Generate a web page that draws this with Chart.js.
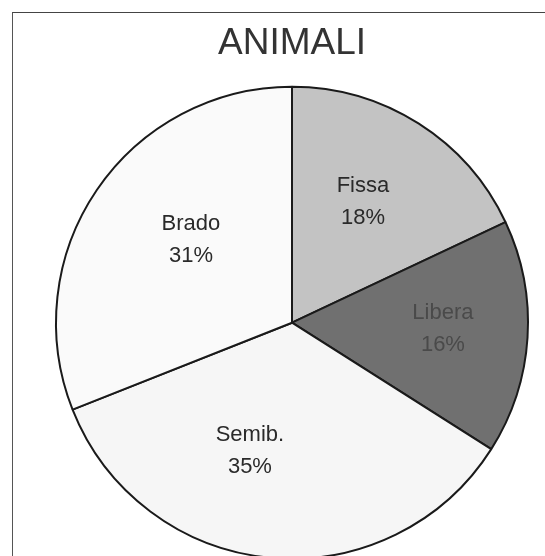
<!DOCTYPE html>
<html>
<head>
<meta charset="utf-8">
<script src="https://cdn.jsdelivr.net/npm/chart.js@4"></script>
<style>
  html, body { margin: 0; padding: 0; background: #fff; overflow: hidden; width: 545px; height: 556px; }
  #frame { position: absolute; left: 12px; top: 12px; width: 560px; height: 600px; border-left: 1.5px solid #555; border-top: 1.5px solid #444; }
  #wrap { position: absolute; left: 0; top: 0; width: 545px; height: 600px; }
</style>
</head>
<body>
<div id="frame"></div>
<div id="wrap"><canvas id="myChart"></canvas></div>
<script>
const labels = ["Fissa", "Libera", "Semib.", "Brado"];
const values = [18, 16, 35, 31];
const sliceColors = ["#c3c3c3", "#707070", "#f6f6f6", "#fafafa"];
const labelColors = ["#2a2a2a", "#4a4a4a", "#2a2a2a", "#2a2a2a"];
// label placement: angle shift from slice middle (deg) and fraction of radius
const labelShift = [-2, -1.3, 12.8, 5.2];
const labelRadius = [0.594, 0.64, 0.571, 0.554];

const ctx = document.getElementById("myChart");

const sliceLabels = {
  id: "sliceLabels",
  afterDatasetsDraw(chart) {
    const c = chart.ctx;
    const arcs = chart.getDatasetMeta(0).data;
    c.save();
    c.font = "22px 'Liberation Sans', Arial, sans-serif";
    c.textAlign = "center";
    c.textBaseline = "middle";
    arcs.forEach((arc, i) => {
      const mid = (arc.startAngle + arc.endAngle) / 2 + labelShift[i] * Math.PI / 180;
      const r = arc.outerRadius * labelRadius[i];
      const x = arc.x + Math.cos(mid) * r;
      const y = arc.y + Math.sin(mid) * r;
      c.fillStyle = labelColors[i];
      c.fillText(labels[i], x, y - 16);
      c.fillText(values[i] + "%", x, y + 16);
    });
    c.restore();
  },
};

new Chart(ctx, {
  type: "pie",
  data: {
    labels: labels,
    datasets: [
      {
        data: values,
        backgroundColor: sliceColors,
        borderColor: "#1a1a1a",
        borderWidth: 2,
        hoverOffset: 0,
        borderAlign: "center",
      },
    ],
  },
  options: {
    responsive: true,
    maintainAspectRatio: false,
    animation: false,
    events: [],
    layout: {
      padding: { left: 55, right: 16, top: 0, bottom: 40 },
    },
    plugins: {
      legend: { display: false },
      tooltip: { enabled: false },
      title: {
        display: true,
        text: "ANIMALI",
        color: "#333",
        font: { family: "'Liberation Sans', Arial, sans-serif", size: 37, weight: "normal" },
        padding: { top: 22, bottom: 19 },
      },
    },
  },
  plugins: [sliceLabels],
});
</script>
</body>
</html>
